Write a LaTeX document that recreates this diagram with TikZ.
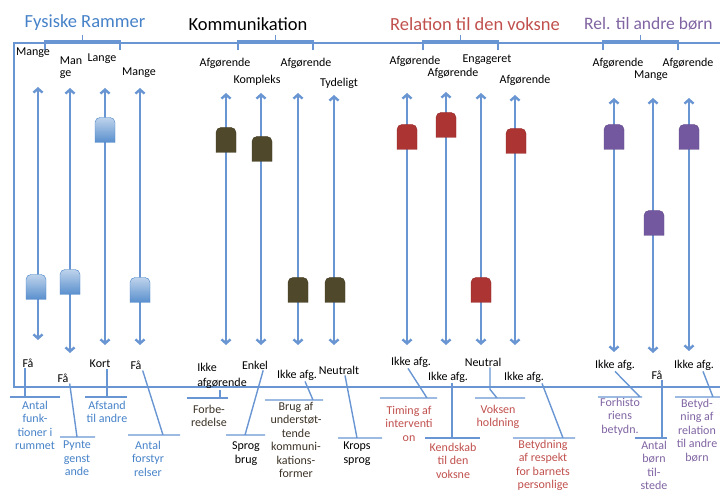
\documentclass[tikz,border=0pt]{standalone}
\usepackage{fontspec}
\setmainfont{Carlito}
\usetikzlibrary{positioning,arrows.meta,calc}

\definecolor{fysblue}{RGB}{70,130,200}
\definecolor{linkblue}{RGB}{105,150,210}
\definecolor{komdark}{RGB}{80,72,42}
\definecolor{komtext}{RGB}{60,50,38}
\definecolor{relred}{RGB}{192,80,77}
\definecolor{knobred}{RGB}{172,52,50}
\definecolor{bornpurple}{RGB}{128,100,162}
\definecolor{knobpurple}{RGB}{115,88,160}

\begin{document}
\begin{tikzpicture}[
    x=1pt, y=-1pt,
    title/.style={font=\fontsize{18.5}{20}\selectfont, inner sep=0pt},
    value/.style={font=\fontsize{12}{12}\selectfont, inner sep=1pt, align=left},
    cat/.style={font=\fontsize{12}{13.4}\selectfont, inner sep=0pt, align=center, anchor=north},
    frame/.style={draw=linkblue, line width=1.8pt},
    slider/.style={{Straight Barb[length=4pt,width=9pt]}-{Straight Barb[length=4pt,width=9pt]}, draw=linkblue, line width=2.4pt},
    leader/.style={draw=linkblue, line width=1.4pt},
    fysknob/.style={top color=fysblue!35!white, bottom color=fysblue!90!white, draw=fysblue},
    komknob/.style={fill=komdark, draw=komdark!80!black},
    relknob/.style={fill=knobred, draw=knobred!85!black},
    bornknob/.style={fill=knobpurple, draw=knobpurple!85!black},
    pics/knob/.style={code={
        \coordinate (-c) at (0,0);
        \path[#1] (-10,12.5) [rounded corners=5pt] -- (-10,-12.5) -- (10,-12.5) [sharp corners] -- (10,12.5) -- cycle;
    }}
]
\useasboundingbox (0,0) rectangle (720,494);
\clip (0,0) rectangle (720,494);

% Frame and brackets
\coordinate (frame_nw) at (14,43);
\coordinate (frame_sw) at (14,387);
\coordinate (frame_ne) at (730,43);
\coordinate (frame_se) at (730,387);
\draw[frame] (frame_ne) -- (frame_nw) -- (frame_sw) -- (frame_se);
\draw[frame] (45,50) -- (45,41) -- (120,41) -- (120,50) (82.5,41) -- (82.5,35);
\draw[frame] (238,50) -- (238,41) -- (313,41) -- (313,50) (275.5,41) -- (275.5,35);
\draw[frame] (423,50) -- (423,41) -- (498,41) -- (498,50) (460.5,41) -- (460.5,35);
\draw[frame] (603,50) -- (603,41) -- (678,41) -- (678,50) (640.5,41) -- (640.5,35);

% Titles
\node[title, text=fysblue] (fys_title) at (85,23) {Fysiske Rammer};
\node[title] (kom_title) at (248,24) {Kommunikation};
\node[title, text=relred] (rel_title) at (475,24) {Relation til den voksne};
\node[title, text=bornpurple, anchor=west, font=\fontsize{17.5}{20}\selectfont] (born_title) at (584,24) {Rel. til andre børn};

% Slider ends
\coordinate (fys1_top) at (38,87);   \coordinate (fys1_bot) at (38,340);
\coordinate (fys2_top) at (70,88);   \coordinate (fys2_bot) at (70,353);
\coordinate (fys3_top) at (105,88);  \coordinate (fys3_bot) at (105,345);
\coordinate (fys4_top) at (140,88);  \coordinate (fys4_bot) at (140,345);
\coordinate (kom1_top) at (226,93);  \coordinate (kom1_bot) at (226,345);
\coordinate (kom2_top) at (261,93);  \coordinate (kom2_bot) at (261,345);
\coordinate (kom3_top) at (298,93);  \coordinate (kom3_bot) at (298,345);
\coordinate (kom4_top) at (334,95);  \coordinate (kom4_bot) at (334,345);
\coordinate (rel1_top) at (407,93);  \coordinate (rel1_bot) at (407,345);
\coordinate (rel2_top) at (446,92);  \coordinate (rel2_bot) at (446,345);
\coordinate (rel3_top) at (481,93);  \coordinate (rel3_bot) at (481,345);
\coordinate (rel4_top) at (515,95);  \coordinate (rel4_bot) at (515,345);
\coordinate (born1_top) at (614,98); \coordinate (born1_bot) at (614,352);
\coordinate (born2_top) at (653,98); \coordinate (born2_bot) at (653,353);
\coordinate (born3_top) at (689,98); \coordinate (born3_bot) at (689,351);

% Sliders
\draw[slider] (fys1_top) -- (fys1_bot);
\draw[slider] (fys2_top) -- (fys2_bot);
\draw[slider] (fys3_top) -- (fys3_bot);
\draw[slider] (fys4_top) -- (fys4_bot);
\draw[slider] (kom1_top) -- (kom1_bot);
\draw[slider] (kom2_top) -- (kom2_bot);
\draw[slider] (kom3_top) -- (kom3_bot);
\draw[slider] (kom4_top) -- (kom4_bot);
\draw[slider] (rel1_top) -- (rel1_bot);
\draw[slider] (rel2_top) -- (rel2_bot);
\draw[slider] (rel3_top) -- (rel3_bot);
\draw[slider] (rel4_top) -- (rel4_bot);
\draw[slider] (born1_top) -- (born1_bot);
\draw[slider] (born2_top) -- (born2_bot);
\draw[slider] (born3_top) -- (born3_bot);

% Knobs
\pic (fys1_knob) at (36,287) {knob=fysknob};
\pic (fys2_knob) at (70,282) {knob=fysknob};
\pic (fys3_knob) at (105,130) {knob=fysknob};
\pic (fys4_knob) at (140,290) {knob=fysknob};
\pic (kom1_knob) at (226,140) {knob=komknob};
\pic (kom2_knob) at (262,149) {knob=komknob};
\pic (kom3_knob) at (298,290) {knob=komknob};
\pic (kom4_knob) at (335,290) {knob=komknob};
\pic (rel1_knob) at (407,137) {knob=relknob};
\pic (rel2_knob) at (446,125) {knob=relknob};
\pic (rel3_knob) at (481,290) {knob=relknob};
\pic (rel4_knob) at (516,141) {knob=relknob};
\pic (born1_knob) at (614,137) {knob=bornknob};
\pic (born2_knob) at (654,223) {knob=bornknob};
\pic (born3_knob) at (689,137) {knob=bornknob};

% Upper values
\node[value] (fys1_max) at (33,53) {Mange};
\node[value] (fys2_max) at (71,68) {Man\\ge};
\node[value] (fys3_max) at (102,59) {Lange};
\node[value] (fys4_max) at (139,73) {Mange};
\node[value] (kom1_max) at (225,63) {Afgørende};
\node[value] (kom2_max) at (257,80) {Kompleks};
\node[value] (kom3_max) at (306,63) {Afgørende};
\node[value] (kom4_max) at (339,83) {Tydeligt};
\node[value] (rel1_max) at (415,61) {Afgørende};
\node[value] (rel2_max) at (453,73) {Afgørende};
\node[value] (rel3_max) at (487,60) {Engageret};
\node[value] (rel4_max) at (525,80) {Afgørende};
\node[value] (born1_max) at (618,63) {Afgørende};
\node[value] (born2_max) at (651,76) {Mange};
\node[value] (born3_max) at (688,63) {Afgørende};

% Lower values
\node[value] (fys1_min) at (28,363) {Få};
\node[value] (fys2_min) at (63,378) {Få};
\node[value] (fys3_min) at (100,364) {Kort};
\node[value] (fys4_min) at (136,365) {Få};
\node[value] (kom1_min) at (222,376) {Ikke\\[3pt]afgørende};
\node[value] (kom2_min) at (255,365) {Enkel};
\node[value] (kom3_min) at (297,375) {Ikke afg.};
\node[value] (kom4_min) at (339,370) {Neutralt};
\node[value] (rel1_min) at (411,362) {Ikke afg.};
\node[value] (rel2_min) at (448,377) {Ikke afg.};
\node[value] (rel3_min) at (483,362) {Neutral};
\node[value] (rel4_min) at (524,377) {Ikke afg.};
\node[value] (born1_min) at (615,365) {Ikke afg.};
\node[value] (born2_min) at (657,375) {Få};
\node[value] (born3_min) at (694,365) {Ikke afg.};

% Feet of the leaders
\coordinate (fys1_foot) at (25,397);
\coordinate (fys2_foot) at (77,437);
\coordinate (fys3_foot) at (107,397);
\coordinate (fys4_foot) at (163,435);
\coordinate (kom1_foot) at (220,398);
\coordinate (kom2_foot) at (245,435);
\coordinate (kom3_foot) at (313,400);
\coordinate (kom4_foot) at (357,438);
\coordinate (rel1_foot) at (427,398);
\coordinate (rel2_foot) at (452,438);
\coordinate (rel3_foot) at (497,398);
\coordinate (rel4_foot) at (563,438);
\coordinate (born1_foot) at (640,397);
\coordinate (born2_foot) at (662,438);
\coordinate (born3_foot) at (713,397);

% Leaders and underlines
\draw[leader] (fys1_min.south -| fys1_foot) -- (fys1_foot) (10,397) -- (60,397);
\draw[leader] (fys2_min.south east) -- (fys2_foot) (60,437) -- (95,437);
\draw[leader] (fys3_min.south -| fys3_foot) -- (fys3_foot) (85,397) -- (127,397);
\draw[leader] (fys4_min.south east) -- (fys4_foot) (128,435) -- (180,435);
\draw[leader] (kom1_min.south -| kom1_foot) -- (kom1_foot) (187,398) -- (228,398);
\draw[leader] ([xshift=-6pt]kom2_min.south east) -- (kom2_foot) (226,435) -- (265,435);
\draw[leader] ([xshift=8pt]kom3_min.south) -- (kom3_foot) (265,400) -- (323,400);
\draw[leader] ([xshift=6pt]kom4_min.south) -- (kom4_foot) (338,438) -- (382,438);
\draw[leader] ([xshift=-3pt]rel1_min.south) -- (rel1_foot) (380,398) -- (437,398);
\draw[leader] (rel2_min.south -| rel2_foot) -- (rel2_foot) (425,438) -- (480,438);
\draw[leader] ([xshift=7pt]rel3_min.south) -- ++(0,22) -- (rel3_foot) (475,398) -- (525,398);
\draw[leader] ([xshift=18pt]rel4_min.south) -- (rel4_foot) (513,438) -- (575,438);
\draw[leader] (born1_min.south) -- (born1_foot) (598,397) -- (642,397);
\draw[leader] (born2_min.south -| born2_foot) -- (born2_foot) (635,438) -- (667,438);
\draw[leader] ([xshift=9pt]born3_min.south) -- (born3_foot) (675,397) -- (725,397);

% Categories
\node[cat, text=fysblue] (fys1_cat) at (35,401) {Antal\\funk-\\tioner i\\rummet};
\node[cat, text=fysblue] (fys2_cat) at (77,441) {Pynte\\genst\\ande};
\node[cat, text=fysblue] (fys3_cat) at (107,401) {Afstand\\til andre};
\node[cat, text=fysblue] (fys4_cat) at (148,441) {Antal\\forstyr\\relser};
\node[cat, text=komtext] (kom1_cat) at (209,405) {Forbe-\\redelse};
\node[cat] (kom2_cat) at (246,442) {Sprog\\brug};
\node[cat, text=komtext] (kom3_cat) at (296,402) {Brug af\\understøt-\\tende\\kommuni-\\kations-\\former};
\node[cat] (kom4_cat) at (357,442) {Krops\\sprog};
\node[cat, text=relred] (rel1_cat) at (409,406) {Timing af\\interventi\\on};
\node[cat, text=relred] (rel2_cat) at (453,443) {Kendskab\\til den\\voksne};
\node[cat, text=relred] (rel3_cat) at (498,405) {Voksen\\holdning};
\node[cat, text=relred] (rel4_cat) at (543,440) {Betydning\\af respekt\\for barnets\\personlige};
\node[cat, text=bornpurple] (born1_cat) at (620,398) {Forhisto\\riens\\betydn.};
\node[cat, text=bornpurple] (born2_cat) at (654,441) {Antal\\børn\\til-\\stede};
\node[cat, text=bornpurple] (born3_cat) at (697,399) {Betyd-\\ning af\\relation\\til andre\\børn};

\end{tikzpicture}
\end{document}
